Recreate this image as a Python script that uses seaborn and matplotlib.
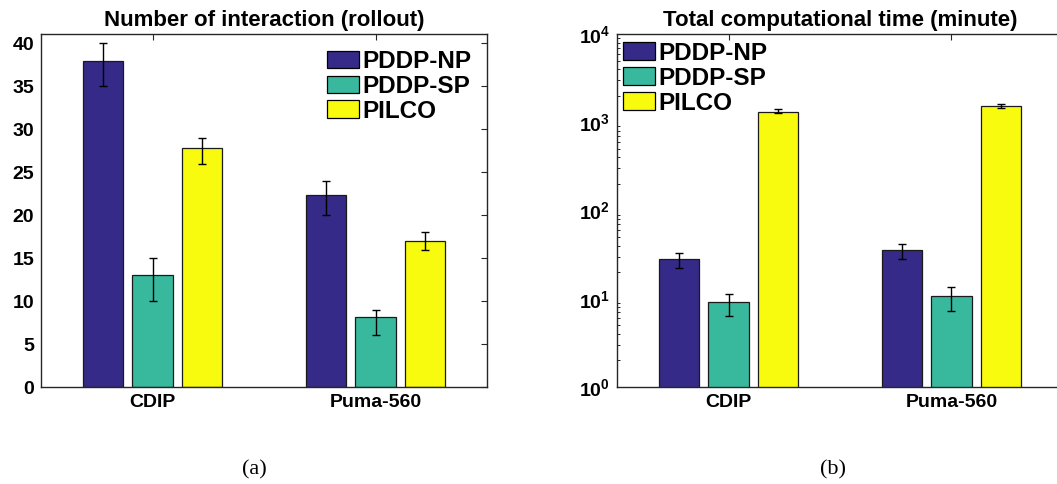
import numpy as np
import pandas as pd
import matplotlib
matplotlib.use("Agg")
import matplotlib.pyplot as plt
from matplotlib.ticker import LogLocator, NullFormatter
import seaborn as sns

categories = ["CDIP", "Puma-560"]
methods = ["PDDP-NP", "PDDP-SP", "PILCO"]
colors = ["#352A87", "#38B99E", "#F9FB0E"]

# Number of interactions (rollouts): mean, lower bound, upper bound
rollout_mean = {"PDDP-NP": [38.0, 22.4], "PDDP-SP": [13.0, 8.2], "PILCO": [27.8, 17.0]}
rollout_low = {"PDDP-NP": [35.0, 20.0], "PDDP-SP": [10.0, 6.0], "PILCO": [26.0, 16.0]}
rollout_high = {"PDDP-NP": [40.0, 24.0], "PDDP-SP": [15.0, 9.0], "PILCO": [29.0, 18.0]}

# Total computational time (minutes)
time_mean = {"PDDP-NP": [28.0, 36.0], "PDDP-SP": [9.3, 10.7], "PILCO": [1318.0, 1528.0]}
time_low = {"PDDP-NP": [22.1, 28.0], "PDDP-SP": [6.3, 7.3], "PILCO": [1260.0, 1436.0]}
time_high = {"PDDP-NP": [32.7, 41.7], "PDDP-SP": [11.2, 13.5], "PILCO": [1400.0, 1623.0]}

rollout_yticks = [0, 5, 10, 15, 20, 25, 30, 35, 40]
time_yticks = [1, 10, 100, 1000, 10000]
time_ytick_labels = [r"$\mathbf{10^{0}}$", r"$\mathbf{10^{1}}$", r"$\mathbf{10^{2}}$",
                     r"$\mathbf{10^{3}}$", r"$\mathbf{10^{4}}$"]

sns.set_style("white")
plt.rcParams["font.family"] = ["Liberation Sans", "DejaVu Sans"]
plt.rcParams["font.weight"] = "bold"
plt.rcParams["text.color"] = "black"
plt.rcParams["xtick.color"] = "black"
plt.rcParams["ytick.color"] = "black"
plt.rcParams["mathtext.fontset"] = "custom"
plt.rcParams["mathtext.bf"] = "Liberation Sans:bold"
plt.rcParams["mathtext.rm"] = "Liberation Sans"

W, H = 1057, 484
fig = plt.figure(figsize=(W / 100, H / 100), dpi=100)
ax1 = fig.add_axes([41 / W, 97 / H, 446 / W, 353 / H])
ax2 = fig.add_axes([617 / W, 97 / H, 446 / W, 353 / H])


def make_df(mean, low, high):
    rows = []
    for m in methods:
        for i, c in enumerate(categories):
            rows.append({"cat": c, "method": m, "val": mean[m][i],
                         "lo": low[m][i], "hi": high[m][i]})
    return pd.DataFrame(rows)


def draw(ax, df, log=False):
    sns.barplot(data=df, x="cat", y="val", hue="method", order=categories,
                hue_order=methods, palette=colors, saturation=1, width=0.67, gap=0.19,
                edgecolor="#1a1a1a", linewidth=0.9, errorbar=None, ax=ax, legend=True)
    if log:
        ax.set_yscale("log", nonpositive="clip")
    idx = 0
    for m in methods:
        for i, c in enumerate(categories):
            p = ax.patches[idx]
            idx += 1
            x = p.get_x() + p.get_width() / 2
            row = df[(df.method == m) & (df.cat == c)].iloc[0]
            ax.errorbar([x], [row.val], yerr=[[row.val - row.lo], [row.hi - row.val]],
                        fmt="none", ecolor="black", elinewidth=1.0, capsize=3,
                        capthick=1.0, zorder=5)
    ax.set_xlim(-0.5, 1.5)
    ax.set_xlabel("")
    ax.set_ylabel("")
    for s in ax.spines.values():
        s.set_visible(True)
        s.set_color("#262626")
        s.set_linewidth(1.0)
    ax.tick_params(axis="both", which="both", direction="in", top=True, right=True,
                   color="#262626", labelsize=14, pad=5)
    ax.tick_params(axis="both", which="major", length=4, width=0.8)
    ax.tick_params(axis="x", which="major", pad=5)
    for lab in ax.get_xticklabels() + ax.get_yticklabels():
        lab.set_fontweight("bold")


legend_kw = dict(frameon=False, prop={"weight": "bold", "size": 17.5}, handlelength=1.32,
                 handleheight=0.74, labelspacing=0.08, handletextpad=0.12,
                 borderaxespad=0, borderpad=0)

df1 = make_df(rollout_mean, rollout_low, rollout_high)
draw(ax1, df1)
ax1.set_ylim(0, 41.1)
ax1.set_yticks(rollout_yticks)
ax1.set_yticklabels([str(t) for t in rollout_yticks], fontweight="bold", fontsize=14)
ax1.set_title("Number of interaction (rollout)", fontsize=16, fontweight="bold", pad=6)
leg1 = ax1.legend(loc="upper left", bbox_to_anchor=(0.642, 0.955), **legend_kw)

df2 = make_df(time_mean, time_low, time_high)
draw(ax2, df2, log=True)
ax2.set_ylim(1, 10000)
ax2.set_yticks(time_yticks)
ax2.set_yticklabels(time_ytick_labels, fontsize=14)
ax2.yaxis.set_minor_locator(LogLocator(base=10, subs=[2, 3, 4, 5, 6, 7, 8, 9]))
ax2.yaxis.set_minor_formatter(NullFormatter())
ax2.tick_params(axis="y", which="minor", direction="in", left=True, right=True,
                length=2.5, width=0.7, color="#262626")
ax2.set_title("Total computational time (minute)", fontsize=16, fontweight="bold", pad=6)
leg2 = ax2.legend(loc="upper left", bbox_to_anchor=(0.014, 0.978), **legend_kw)

for leg in (leg1, leg2):
    for h in leg.legend_handles:
        h.set_edgecolor("black")
        h.set_linewidth(0.9)

fig.text(254 / W, 1 - 470 / H, "(a)", family="Liberation Serif", fontsize=16,
         fontweight="normal", ha="center", va="center")
fig.text(833 / W, 1 - 470 / H, "(b)", family="Liberation Serif", fontsize=16,
         fontweight="normal", ha="center", va="center")

fig.savefig("out.png", dpi=100)
